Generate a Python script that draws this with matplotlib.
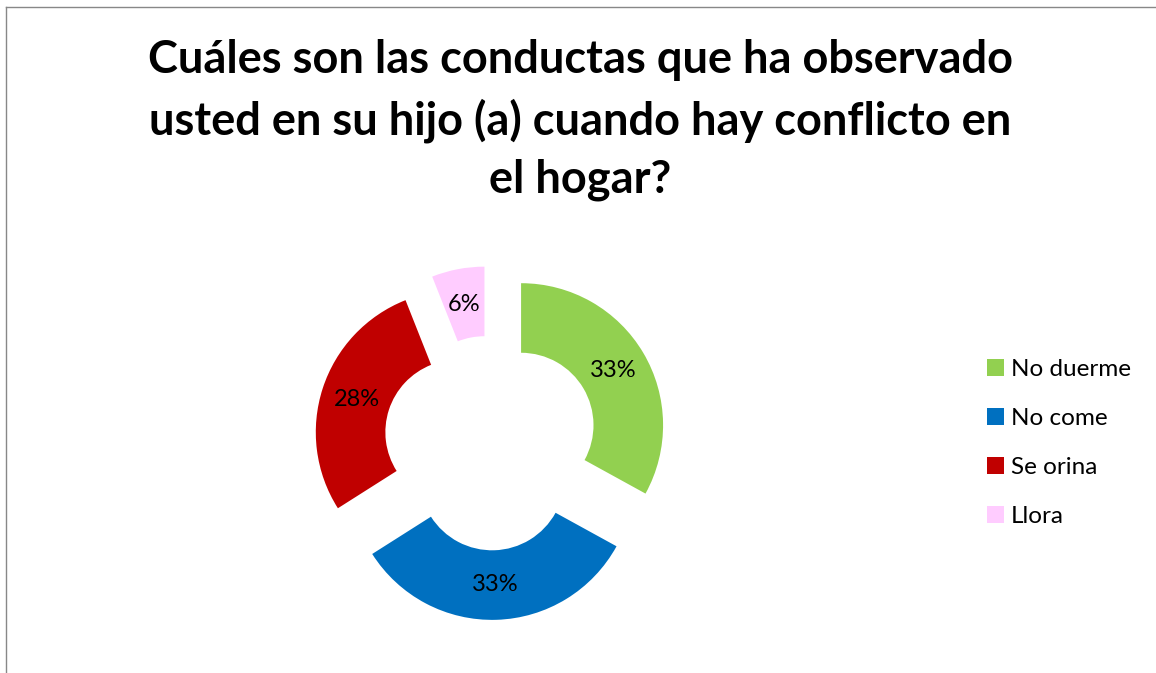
import matplotlib.pyplot as plt
from matplotlib.patches import Patch
from matplotlib.lines import Line2D

plt.rcParams['font.family'] = ['Lato', 'DejaVu Sans']

categorias = ["No duerme", "No come", "Se orina", "Llora"]
porcentajes = [33, 33, 28, 6]
colores = ["#92D050", "#0070C0", "#C00000", "#FFCCFF"]
titulo = "Cuáles son las conductas que ha observado\nusted en su hijo (a) cuando hay conflicto en\nel hogar?"

fig = plt.figure(figsize=(11.56, 6.73), dpi=100)

# marco gris del grafico
fig.add_artist(Line2D([6/1156, 1.0], [1-7/673, 1-7/673], color="#888888", lw=1))
fig.add_artist(Line2D([6/1156, 6/1156], [0.0, 1-7/673], color="#888888", lw=1))

fig.text(0.502, 1-120/673, titulo, ha="center", va="center", fontsize=32.5,
         fontweight="bold", linespacing=1.47)

ax = fig.add_axes([0.2405, 0.0253, 0.3685, 0.633])
wedges, _, autotexts = ax.pie(
    porcentajes, colors=colores, startangle=90, counterclock=False,
    explode=[0.246] * 4, radius=1.0,
    wedgeprops=dict(width=0.49, edgecolor="none"),
    autopct=lambda p: "%d%%" % round(p), pctdistance=0.75,
    textprops=dict(fontsize=17, color="black"))
ax.set_xlim(-1.5, 1.5)
ax.set_ylim(-1.5, 1.5)
ax.set_aspect("equal")
ax.axis("off")

handles = [Patch(facecolor=c, edgecolor="none") for c in colores]
fig.legend(handles, categorias, loc="center left",
           bbox_to_anchor=(965/1156, 1-443/673), frameon=False,
           fontsize=17.5, handlelength=0.7, handleheight=0.7,
           handletextpad=0.3, labelspacing=1.15)

fig.savefig("out.png", dpi=100)
